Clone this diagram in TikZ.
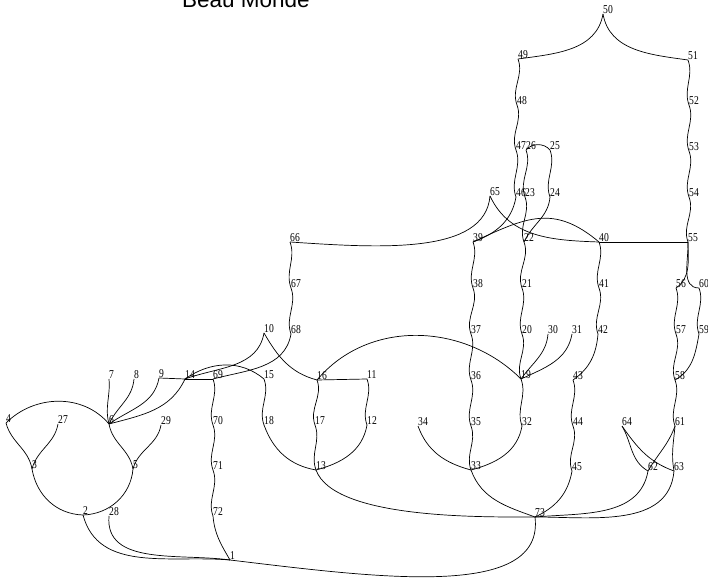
\documentclass[tikz,border=0pt]{standalone}
\usepackage{fontspec}
\newfontfamily\lblfont[FakeStretch=0.8]{Liberation Serif}
\newfontfamily\ttlfont{Liberation Sans}
\begin{document}
\begin{tikzpicture}[x=1pt,y=1pt,
  lbl/.style={font=\lblfont\fontsize{12}{12}\selectfont, inner sep=0pt, anchor=south west},
  ln/.style={line width=0.7pt, black},
  wv/.style={out=-70,in=110}]
\useasboundingbox (0,0) rectangle (708,580);
\node[font=\ttlfont\fontsize{22.5}{24}\selectfont, anchor=base west, inner sep=0pt] (title) at (182,572) {Beau Monde};
% labels / nodes
\node[lbl] (n1) at (230,20) {1};
\node[lbl] (n2) at (83,65) {2};
\node[lbl] (n3) at (32,111) {3};
\node[lbl] (n4) at (6,157) {4};
\node[lbl] (n5) at (133,111) {5};
\node[lbl] (n6) at (109,156) {6};
\node[lbl] (n7) at (109,201) {7};
\node[lbl] (n8) at (134,201) {8};
\node[lbl] (n9) at (159,202) {9};
\node[lbl] (n10) at (264,247) {10};
\node[lbl] (n11) at (367,201) {11};
\node[lbl] (n12) at (367,155) {12};
\node[lbl] (n13) at (316,110) {13};
\node[lbl] (n14) at (185,201) {14};
\node[lbl] (n15) at (264,201) {15};
\node[lbl] (n16) at (317,200) {16};
\node[lbl] (n17) at (315,155) {17};
\node[lbl] (n18) at (264,155) {18};
\node[lbl] (n19) at (521,201) {19};
\node[lbl] (n20) at (522,246) {20};
\node[lbl] (n21) at (522,292) {21};
\node[lbl] (n22) at (524,338) {22};
\node[lbl] (n23) at (525,383) {23};
\node[lbl] (n24) at (550,383) {24};
\node[lbl] (n25) at (550,430) {25};
\node[lbl] (n26) at (526,430) {26};
\node[lbl] (n27) at (58,156) {27};
\node[lbl] (n28) at (109,64) {28};
\node[lbl] (n29) at (161,155) {29};
\node[lbl] (n30) at (548,246) {30};
\node[lbl] (n31) at (572,246) {31};
\node[lbl] (n32) at (522,154) {32};
\node[lbl] (n33) at (471,110) {33};
\node[lbl] (n34) at (418,154) {34};
\node[lbl] (n35) at (471,154) {35};
\node[lbl] (n36) at (471,200) {36};
\node[lbl] (n37) at (471,246) {37};
\node[lbl] (n38) at (473,292) {38};
\node[lbl] (n39) at (473,338) {39};
\node[lbl] (n40) at (599,338) {40};
\node[lbl] (n41) at (599,292) {41};
\node[lbl] (n42) at (598,246) {42};
\node[lbl] (n43) at (573,200) {43};
\node[lbl] (n44) at (573,154) {44};
\node[lbl] (n45) at (572,109) {45};
\node[lbl] (n46) at (516,383) {46};
\node[lbl] (n47) at (516,430) {47};
\node[lbl] (n48) at (517,475) {48};
\node[lbl] (n49) at (518,521) {49};
\node[lbl] (n50) at (603,566) {50};
\node[lbl] (n51) at (688,520) {51};
\node[lbl] (n52) at (689,475) {52};
\node[lbl] (n53) at (689,429) {53};
\node[lbl] (n54) at (689,383) {54};
\node[lbl] (n55) at (688,338) {55};
\node[lbl] (n56) at (676,292) {56};
\node[lbl] (n57) at (676,246) {57};
\node[lbl] (n58) at (675,200) {58};
\node[lbl] (n59) at (699,246) {59};
\node[lbl] (n60) at (699,292) {60};
\node[lbl] (n61) at (675,154) {61};
\node[lbl] (n62) at (648,109) {62};
\node[lbl] (n63) at (674,109) {63};
\node[lbl] (n64) at (622,154) {64};
\node[lbl] (n65) at (490,384) {65};
\node[lbl] (n66) at (290,338) {66};
\node[lbl] (n67) at (291,292) {67};
\node[lbl] (n68) at (291,246) {68};
\node[lbl] (n69) at (213,201) {69};
\node[lbl] (n70) at (213,155) {70};
\node[lbl] (n71) at (213,110) {71};
\node[lbl] (n72) at (213,64) {72};
\node[lbl] (n73) at (535,63) {73};
% S-shaped vertical links
\foreach \a/\b in {49/48,48/47,47/46,51/52,52/53,53/54,54/55,56/57,57/58,60/59,58/61,
  40/41,41/42,43/44,44/45,39/38,38/37,37/36,36/35,35/33,22/21,21/20,20/19,26/23,23/22,25/24,
  66/67,67/68,69/70,70/71,71/72,16/17,17/13,15/18,11/12,19/32}
  \draw[ln] (n\a.south west) to[wv] (n\b.south west);
% other links
\draw[ln] (n50.south west) to[out=-100,in=8] (n49.south west);
\draw[ln] (n50.south west) to[out=-80,in=172] (n51.south west);
\draw[ln] (n55.south west) to[out=-90,in=35] (n56.south west);
\draw[ln] (n55.south west) to[out=-88,in=180] (n60.south west);
\draw[ln] (n59.south west) to[out=-100,in=30] (n58.south west);
\draw[ln] (n61.south west) to[out=-110,in=60] (n62.south west);
\draw[ln] (n61.south west) to[out=-95,in=100] (n63.south west);
\draw[ln] (n64.south west) to[out=-60,in=150] (n62.south west);
\draw[ln] (n64.south west) to[out=-55,in=160] (n63.south west);
\draw[ln] (n62.south west) to[out=-100,in=5] (n73.south west);
\draw[ln] (n63.south west) to[out=-95,in=0] (n73.south west);
\draw[ln] (n45.south west) to[out=-100,in=25] (n73.south west);
\draw[ln] (n33.south west) to[out=-70,in=160] (n73.south west);
\draw[ln] (n13.south west) to[out=-70,in=180,looseness=0.6] (n73.south west);
\draw[ln] (n1.south west) .. controls (380,2) and (545,-20) .. (n73.south west);
\draw[ln] (n2.south west) to[out=-75,in=175] (n1.south west);
\draw[ln] (n28.south west) to[out=-95,in=172] (n1.south west);
\draw[ln] (n72.south west) to[out=-85,in=120] (n1.south west);
\draw[ln] (n3.south west) to[out=-80,in=178] (n2.south west);
\draw[ln] (n5.south west) to[out=-95,in=2] (n2.south west);
\draw[ln] (n4.south west) to[out=-75,in=100] (n3.south west);
\draw[ln] (n27.south west) to[out=-100,in=75] (n3.south west);
\draw[ln] (n6.south west) to[out=-80,in=100] (n5.south west);
\draw[ln] (n29.south west) to[out=-100,in=75] (n5.south west);
\draw[ln] (n4.south west) to[out=45,in=130] (n6.south west);
\draw[ln] (n6.south west) to[out=105,in=-85] (n7.south west);
\draw[ln] (n6.south west) to[out=65,in=-95] (n8.south west);
\draw[ln] (n6.south west) to[out=35,in=-100] (n9.south west);
\draw[ln] (n6.south west) to[out=15,in=-115] (n14.south west);
\draw[ln] (n9.south west) -- (n14.south west);
\draw[ln] (n14.south west) -- (n69.south west);
\draw[ln] (n14.south west) to[out=35,in=140] (n15.south west);
\draw[ln] (n10.south west) to[out=-100,in=20] (n14.south west);
\draw[ln] (n68.south west) to[out=-100,in=15] (n69.south west);
\draw[ln] (n10.south west) to[out=-60,in=165] (n16.south west);
\draw[ln] (n16.south west) -- (n11.south west);
\draw[ln] (n16.south west) to[out=50,in=135] (n19.south west);
\draw[ln] (n19.south west) to[out=55,in=-95] (n30.south west);
\draw[ln] (n19.south west) to[out=25,in=-100] (n31.south west);
\draw[ln] (n32.south west) to[out=-100,in=15] (n33.south west);
\draw[ln] (n34.south west) to[out=-70,in=165] (n33.south west);
\draw[ln] (n12.south west) to[out=-100,in=15] (n13.south west);
\draw[ln] (n18.south west) to[out=-70,in=170] (n13.south west);
\draw[ln] (n24.south west) to[out=-95,in=65] (n22.south west);
\draw[ln] (n26.south west) to[out=50,in=130] (n25.south west);
\draw[ln] (n46.south west) to[out=-100,in=20] (n39.south west);
\draw[ln] (n39.south west) to[out=25,in=140,looseness=1.2] (n40.south west);
\draw[ln] (n65.south west) to[out=-65,in=178] (n40.south west);
\draw[ln] (n65.south west) .. controls (485,325) and (380,332) .. (n66.south west);
\draw[ln] (n40.south west) -- (n55.south west);
\draw[ln] (n42.south west) to[out=-95,in=35] (n43.south west);
\end{tikzpicture}
\end{document}
